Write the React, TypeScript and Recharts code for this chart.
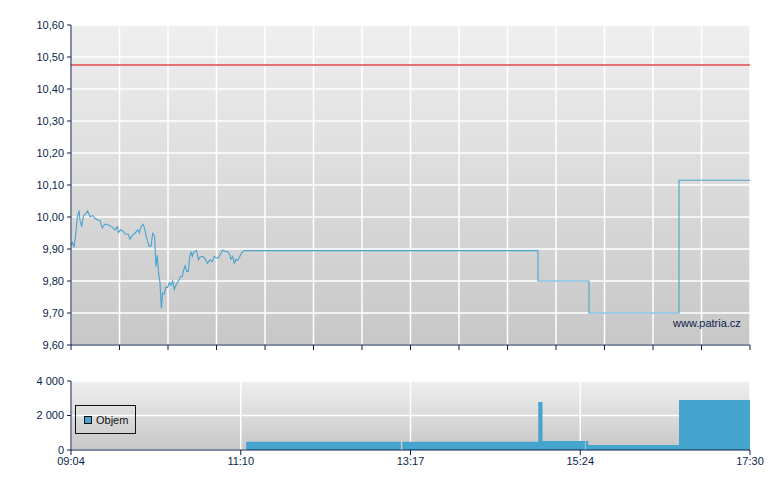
import React from 'react';
import { ComposedChart, Line, Area, XAxis, YAxis, CartesianGrid, ReferenceLine } from 'recharts';

// minutes after 09:04
const priceMinutes = [
  0, 1.2, 2.2, 3.5, 4.7, 6.0, 6.7, 8.0, 9.2, 10.9, 12.4, 14.2, 16.1, 17.9, 19.9, 21.6, 23.3, 25.3, 27.8, 30.3,
  32.8, 34.5, 35.3, 37.0, 39.0, 40.7, 42.7, 44.0, 45.2, 47.7, 49.7, 50.9, 52.2, 53.9, 55.1, 56.4, 58.1, 59.6, 60.9, 62.3,
  63.3, 64.3, 65.3, 66.3, 67.3, 68.3, 69.5, 70.6, 72.0, 73.3, 74.5, 75.8, 77.0, 78.2, 80.0, 81.7, 83.0, 83.7, 85.0, 86.2,
  87.4, 88.4, 89.4, 90.4, 91.4, 92.7, 93.6, 94.9, 96.1, 97.9, 99.4, 100.6, 101.6, 103.6, 105.3, 106.6, 108.1, 109.8, 111.5, 113.0,
  114.8, 116.8, 118.5, 119.2, 120.5, 121.7, 123.0, 124.2, 125.9, 127.2, 128.9,
  348.0, 348.0, 386.0, 386.0, 453.1, 453.1, 506,
];
const priceValues = [
  9.912, 9.92, 9.905, 9.944, 10.0, 10.02, 9.99, 9.97, 10.003, 10.01, 10.019, 10.0, 10.005, 9.996, 9.99, 9.99, 9.966, 9.978, 9.975, 9.97,
  9.96, 9.97, 9.951, 9.96, 9.955, 9.946, 9.946, 9.93, 9.94, 9.95, 9.96, 9.95, 9.97, 9.977, 9.96, 9.933, 9.909, 9.909, 9.949, 9.94,
  9.845, 9.88, 9.824, 9.795, 9.715, 9.763, 9.76, 9.78, 9.78, 9.795, 9.787, 9.8, 9.774, 9.787, 9.8, 9.814, 9.814, 9.83, 9.848, 9.83,
  9.83, 9.874, 9.892, 9.877, 9.89, 9.893, 9.895, 9.867, 9.874, 9.877, 9.873, 9.864, 9.855, 9.866, 9.86, 9.877, 9.872, 9.872, 9.885, 9.897,
  9.892, 9.892, 9.88, 9.868, 9.877, 9.855, 9.868, 9.864, 9.877, 9.888, 9.895,
  9.895, 9.8, 9.8, 9.7, 9.7, 10.115, 10.115,
];
const previousClose = 10.475;
const priceTicks = [9.6, 9.7, 9.8, 9.9, 10.0, 10.1, 10.2, 10.3, 10.4, 10.5, 10.6];

const volMinutes = [0, 130.5, 130.5, 245.8, 245.8, 246.9, 246.9, 348.2, 348.2, 351.4, 351.4, 383.0, 383.0, 383.6, 383.6, 385.5, 385.5, 453.1, 453.1, 506];
const volValues = [0, 0, 475, 475, 0, 0, 475, 475, 2780, 2780, 520, 520, 0, 0, 520, 520, 290, 290, 2900, 2900];
const volTicks = [0, 2000, 4000];
const timeTickMinutes = [0, 126.5, 253, 379.5, 506];
const timeTickLabels = ['09:04', '11:10', '13:17', '15:24', '17:30'];

const SESSION = 506;
const upperGridMinutes = Array.from({ length: 15 }, (_, i) => (i * SESSION) / 14);

const priceData = priceMinutes.map((t, i) => ({ t, v: priceValues[i] }));
const volData = volMinutes.map((t, i) => ({ t, vol: volValues[i] }));

const NAVY = '#0b1f4d';
const FONT = '"Liberation Sans", Arial, sans-serif';
const tickStyle = { fill: NAVY, fontSize: 11, fontFamily: FONT };

export default function App() {
  return (
    <div style={{ position: 'absolute', left: 0, top: 0, width: 780, height: 490, background: '#fff', fontFamily: FONT }}>
      <div style={{ position: 'absolute', left: 0, top: 0 }}>
        <ComposedChart width={780} height={360} data={priceData} margin={{ top: 25, right: 30, bottom: 0, left: 11 }}>
          <defs>
            <linearGradient id="bgTop" x1="0" y1="0" x2="0" y2="1">
              <stop offset="0" stopColor="#efefef" />
              <stop offset="1" stopColor="#c7c7c7" />
            </linearGradient>
          </defs>
          <CartesianGrid fill="url(#bgTop)" fillOpacity={1} stroke="#ffffff" strokeWidth={1.5} />
          <XAxis
            type="number"
            dataKey="t"
            domain={[0, SESSION]}
            ticks={upperGridMinutes}
            tickFormatter={() => ''}
            interval={0}
            height={15}
            tickSize={5}
            axisLine={{ stroke: NAVY }}
            tickLine={{ stroke: NAVY }}
            allowDataOverflow
          />
          <YAxis
            type="number"
            domain={[9.6, 10.6]}
            ticks={priceTicks}
            interval={0}
            width={60}
            tickFormatter={(v: number) => v.toFixed(2).replace('.', ',')}
            tick={tickStyle}
            tickSize={4}
            tickMargin={3}
            axisLine={{ stroke: NAVY }}
            tickLine={{ stroke: NAVY }}
            allowDataOverflow
          />
          <ReferenceLine y={previousClose} stroke="#e2474c" strokeWidth={1.6} />
          <Line type="linear" dataKey="v" stroke="#4aa3cf" strokeWidth={1.1} dot={false} isAnimationActive={false} />
        </ComposedChart>
      </div>
      <div style={{ position: 'absolute', left: 673, top: 316, fontSize: 11, color: NAVY, fontFamily: FONT, lineHeight: '14px' }}>
        www.patria.cz
      </div>
      <div style={{ position: 'absolute', left: 0, top: 360 }}>
        <ComposedChart width={780} height={130} data={volData} margin={{ top: 21, right: 30, bottom: 0, left: 11 }}>
          <defs>
            <linearGradient id="bgBottom" x1="0" y1="0" x2="0" y2="1">
              <stop offset="0" stopColor="#efefef" />
              <stop offset="1" stopColor="#c7c7c7" />
            </linearGradient>
          </defs>
          <CartesianGrid fill="url(#bgBottom)" fillOpacity={1} stroke="#ffffff" strokeWidth={1.5} />
          <XAxis
            type="number"
            dataKey="t"
            domain={[0, SESSION]}
            ticks={timeTickMinutes}
            interval={0}
            tickFormatter={(v: number) => timeTickLabels[timeTickMinutes.indexOf(v)] ?? ''}
            tick={tickStyle}
            height={40}
            tickSize={5}
            tickMargin={2}
            axisLine={{ stroke: NAVY }}
            tickLine={{ stroke: NAVY }}
            allowDataOverflow
          />
          <YAxis
            type="number"
            domain={[0, 4000]}
            ticks={volTicks}
            interval={0}
            width={60}
            tickFormatter={(v: number) => (v === 0 ? '0' : `${Math.floor(v / 1000)} ${String(v % 1000).padStart(3, '0')}`)}
            tick={tickStyle}
            tickSize={4}
            tickMargin={3}
            axisLine={{ stroke: NAVY }}
            tickLine={{ stroke: NAVY }}
          />
          <Area type="linear" dataKey="vol" stroke="none" fill="#45a5cf" fillOpacity={1} isAnimationActive={false} dot={false} activeDot={false} />
        </ComposedChart>
      </div>
      <div
        style={{
          position: 'absolute',
          left: 75,
          top: 405,
          width: 59,
          height: 27,
          border: '1px solid #111',
          display: 'flex',
          alignItems: 'center',
          fontSize: 11,
          fontFamily: FONT,
          color: '#111',
        }}
      >
        <span style={{ display: 'inline-block', width: 6, height: 6, marginLeft: 8, marginRight: 4, background: '#45a5cf', border: '1px solid #111' }} />
        <span>Objem</span>
      </div>
    </div>
  );
}
